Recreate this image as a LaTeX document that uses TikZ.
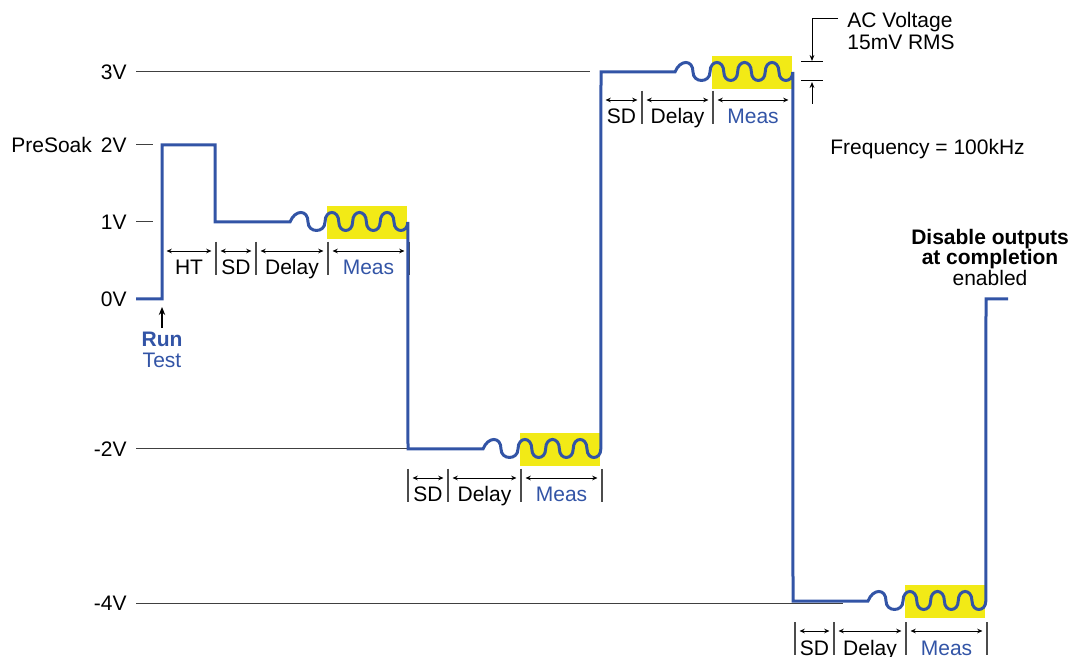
\documentclass[tikz,border=0pt]{standalone}
\usepackage{fontspec}
\setmainfont{Liberation Sans}
\usetikzlibrary{arrows.meta,positioning}
\definecolor{trace}{RGB}{50,84,166}
\definecolor{measyellow}{RGB}{242,234,22}
\newcommand{\labelsize}{\fontsize{10.5}{11}\selectfont}
% 15mV ripple, one delay cycle then three measured cycles
\newcommand{\humpup}[1]{.. controls +(0,-12.7) and +(0,-12.7) .. ++(#1,0)}
\newcommand{\humpdn}[1]{.. controls +(0,11.3) and +(0,11.3) .. ++(#1,0)}
\newcommand{\acwave}{%
  .. controls +(5,-12.7) and +(0,-12.7) .. ++(18,0) \humpdn{17}
  \humpup{13.8} \humpdn{13.8} \humpup{13.8} \humpdn{13.8} \humpup{13.8} \humpdn{13.8}}

\begin{document}
\begin{tikzpicture}[
  x=0.5pt, y=-0.5pt,
  font=\labelsize,
  trace/.style={draw=trace, line width=1.5pt},
  ref/.style={draw=black!75, line width=0.5pt},
  tick/.style={draw=black!70, line width=0.6pt},
  span/.style={{Stealth[length=2.6pt,width=2.3pt]}-{Stealth[length=2.6pt,width=2.3pt]}, line width=0.45pt, shorten <=2.3pt, shorten >=2.3pt},
  lead/.style={-{Stealth[length=3pt,width=2.4pt]}, line width=0.5pt},
  lvl/.style={anchor=base east, inner sep=0pt},
  txt/.style={anchor=base, inner sep=0pt}
]
\useasboundingbox (0,0) rectangle (1071,657);

% measurement windows
\foreach \x/\y in {290/222, 483/449, 675/72, 868/601}
  \fill[measyellow] (\x+37,\y-16) rectangle (\x+117,\y+17);

% levels
\node[lvl] (l3) at (127,79.5) {3V};
\node[lvl] (l2) at (127,152.5) {PreSoak\hskip4.5pt 2V};
\node[lvl] (l1) at (127,229.5) {1V};
\node[lvl] (l0) at (127,306.5) {0V};
\node[lvl] (lm2) at (127,456.5) {-2V};
\node[lvl] (lm4) at (127,610.5) {-4V};
\foreach \y/\xe in {72/590, 145/153, 222/153, 449/408, 603/843}
  \draw[ref] (136,\y) -- (\xe,\y);

% timing spans
\foreach \yy/\xl/\xr/\lab/\col [count=\i] in {
    251/162/216/HT/black, 251/216/256/SD/black, 251/256/328/Delay/black, 251/328/409/Meas/trace,
    478/408/448/SD/black, 478/448/521/Delay/black, 478/521/602/Meas/trace,
    100/601/642/SD/black, 100/642/713/Delay/black, 100/713/793/Meas/trace,
    631/795/834/SD/black, 631/834/906/Delay/black, 631/906/987/Meas/trace} {
  \coordinate (t\i w) at (\xl,\yy);
  \coordinate (t\i e) at (\xr,\yy);
  \draw[tick] ([yshift=4.5pt]t\i w) -- ([yshift=-12pt]t\i w)
              ([yshift=4.5pt]t\i e) -- ([yshift=-12pt]t\i e);
  \draw[span] (t\i w) -- (t\i e) node[midway, txt, yshift=-12pt, text=\col] (t\i) {\lab};
}

% output waveform
\draw[trace] (136,299) -- (162,299) -- (162,145) -- (215,145) -- (215,222) -- (290,222) \acwave
  -- (408,449) -- (483,449) \acwave
  -- (601,72) -- (675,72) \acwave
  -- (793,601) -- (868,601) \acwave
  -- (986,299) -- (1008,299);

% run test
\coordinate (go) at (162,299);
\node[txt, font=\labelsize\bfseries, text=trace] (run) at (162,347) {Run};
\node[txt, text=trace] (test) at (162,367.5) {Test};
\draw[-{Stealth[length=4pt,width=3.2pt]}, line width=0.6pt] ([yshift=2pt]run.north) -- ([yshift=-4pt]go);

% ac amplitude
\node[txt, anchor=base west] (acv) at (847,27.5) {AC Voltage};
\node[txt, anchor=base west] (rms) at (847,49.5) {15mV RMS};
\coordinate (pk) at (812,62);
\coordinate (tr) at (812,81);
\coordinate (acfoot) at (838,19);
\coordinate (acbase) at (812,104);
\draw[ref, draw=black] ([xshift=-5.5pt]pk) -- ([xshift=5.5pt]pk);
\draw[ref, draw=black] ([xshift=-5.5pt]tr) -- ([xshift=5.5pt]tr);
\draw[lead] (acfoot) -| ([yshift=0.5pt]pk);
\draw[lead] (acbase) -- ([yshift=-0.5pt]tr);

\node[txt, anchor=base west] (freq) at (830,154.5) {Frequency = 100kHz};

% end state
\node[txt, font=\labelsize\bfseries] (dis1) at (990,244.5) {Disable outputs};
\node[txt, font=\labelsize\bfseries] (dis2) at (990,264.5) {at completion};
\node[txt] (dis3) at (990,285.5) {enabled};
\end{tikzpicture}
\end{document}
